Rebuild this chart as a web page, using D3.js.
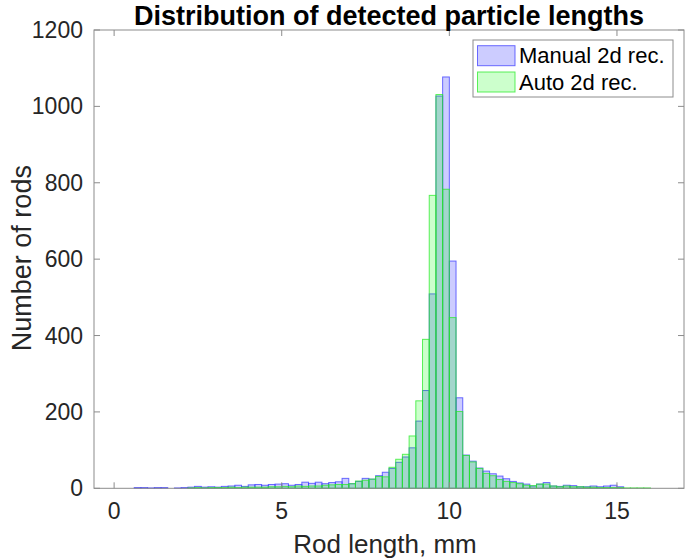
<!DOCTYPE html>
<html>
<head>
<meta charset="utf-8">
<script src="https://cdn.jsdelivr.net/npm/d3@7"></script>
<style>
  html, body { margin: 0; padding: 0; background: #fff; }
  svg { display: block; font-family: "Liberation Sans", Arial, Helvetica, sans-serif; }
</style>
</head>
<body>
<svg id="chart" width="685" height="560"></svg>
<script>
// ---- data ----
const binStart = 0.6;          // first bin left edge, mm
const binWidth = 0.2;          // bin width, mm
const manualCounts = [
  2, 2, 1, 2, 2, 0, 1, 2, 3, 5, 3, 4, 3, 5, 6, 8, 5, 9, 10, 8, 10, 11, 12, 8, 10, 16, 13, 16, 12, 15, 17, 26,
  12, 18, 26, 24, 33, 42, 52, 68, 82, 106, 176, 256, 509, 1027, 1077, 595, 237, 87, 71, 53, 45, 38, 32, 25, 18,
  14, 11, 6, 11, 15, 6, 5, 8, 7, 4, 4, 6, 4, 6, 8, 4, 0, 0, 0, 0
];
const autoCounts = [
  0, 0, 0, 0, 0, 0, 0, 0, 1, 2, 1, 2, 2, 2, 3, 2, 3, 3, 3, 3, 4, 4, 5, 4, 6, 5, 6, 6, 8, 9, 10, 10,
  12, 19, 21, 24, 31, 30, 55, 76, 89, 137, 229, 390, 767, 1031, 783, 447, 201, 86, 69, 52, 39, 33, 23, 18, 15,
  12, 8, 7, 11, 11, 6, 4, 6, 4, 4, 3, 3, 2, 2, 2, 2, 1, 1, 1, 1
];
const seriesNames = ["Manual 2d rec.", "Auto 2d rec."];
const xTicks = [0, 5, 10, 15];
const yTicks = [0, 200, 400, 600, 800, 1000, 1200];
const titleText = "Distribution of detected particle lengths";
const xLabel = "Rod length, mm";
const yLabel = "Number of rods";

// ---- layout ----
const svg = d3.select("#chart");
const L = 94, R = 684, T = 30, B = 488.3;
const x = d3.scaleLinear().domain([-0.6, 17]).range([L, R]);
const y = d3.scaleLinear().domain([0, 1200]).range([B, T]);

const styles = [
  { fill: "rgba(0,0,255,0.2)", stroke: "rgba(60,60,255,0.75)" },
  { fill: "rgba(0,255,0,0.2)", stroke: "rgba(40,235,40,0.75)" }
];

function binsOf(counts) {
  return counts.map((c, i) => ({ x0: binStart + i * binWidth, x1: binStart + (i + 1) * binWidth, c }))
               .filter(d => d.c > 0);
}

[manualCounts, autoCounts].forEach((counts, si) => {
  svg.append("g").selectAll("rect").data(binsOf(counts)).join("rect")
    .attr("x", d => x(d.x0))
    .attr("width", d => x(d.x1) - x(d.x0))
    .attr("y", d => y(d.c))
    .attr("height", d => y(0) - y(d.c))
    .attr("fill", styles[si].fill)
    .attr("stroke", styles[si].stroke)
    .attr("stroke-width", 1);
});

// ---- axes box ----
const axisColor = "#8c8c8c";
const tickLen = 6;
const g = svg.append("g");
g.append("rect").attr("x", L).attr("y", T).attr("width", R - L).attr("height", B - T)
  .attr("fill", "none").attr("stroke", axisColor).attr("stroke-width", 1);

xTicks.forEach(t => {
  g.append("line").attr("x1", x(t)).attr("x2", x(t)).attr("y1", B).attr("y2", B - tickLen).attr("stroke", axisColor);
  g.append("line").attr("x1", x(t)).attr("x2", x(t)).attr("y1", T).attr("y2", T + tickLen).attr("stroke", axisColor);
  g.append("text").attr("x", x(t)).attr("y", B + 31).attr("text-anchor", "middle")
    .attr("font-size", 23).attr("fill", "#262626").text(t);
});
yTicks.forEach(t => {
  g.append("line").attr("x1", L).attr("x2", L + tickLen).attr("y1", y(t)).attr("y2", y(t)).attr("stroke", axisColor);
  g.append("line").attr("x1", R).attr("x2", R - tickLen).attr("y1", y(t)).attr("y2", y(t)).attr("stroke", axisColor);
  g.append("text").attr("x", L - 11).attr("y", y(t)).attr("dy", "0.35em").attr("text-anchor", "end")
    .attr("font-size", 23).attr("fill", "#262626").text(t);
});

// ---- labels ----
svg.append("text").attr("x", (L + R) / 2).attr("y", 25).attr("text-anchor", "middle")
  .attr("font-size", 27).attr("font-weight", "bold").attr("fill", "#000").text(titleText);
svg.append("text").attr("x", (L + R) / 2 - 4).attr("y", 553).attr("text-anchor", "middle")
  .attr("font-size", 26).attr("fill", "#262626").text(xLabel);
svg.append("text").attr("transform", `translate(31,${(T + B) / 2 - 1}) rotate(-90)`).attr("text-anchor", "middle")
  .attr("font-size", 27).attr("fill", "#262626").text(yLabel);

// ---- legend ----
const lg = svg.append("g");
lg.append("rect").attr("x", 473).attr("y", 40).attr("width", 200).attr("height", 57)
  .attr("fill", "#fff").attr("stroke", axisColor).attr("stroke-width", 1);
seriesNames.forEach((n, i) => {
  const cy = 55.7 + i * 26.3;
  lg.append("rect").attr("x", 477.5).attr("y", cy - 10).attr("width", 37.5).attr("height", 20)
    .attr("fill", styles[i].fill).attr("stroke", styles[i].stroke).attr("stroke-width", 1);
  lg.append("text").attr("x", 519).attr("y", cy).attr("dy", "0.35em")
    .attr("font-size", 22).attr("fill", "#000").text(n);
});
</script>
</body>
</html>
